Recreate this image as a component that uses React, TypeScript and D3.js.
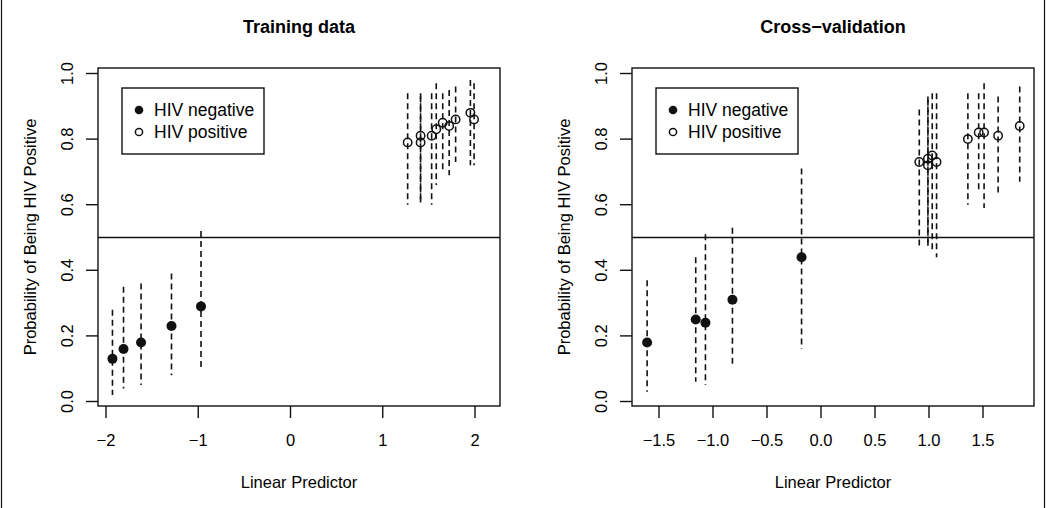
import React from "react";
import * as d3 from "d3";

// ---------- data ----------
const trainNegX = [-1.93, -1.81, -1.62, -1.29, -0.97];
const trainNegP = [0.13, 0.16, 0.18, 0.23, 0.29];
const trainNegLo = [0.02, 0.04, 0.05, 0.08, 0.1];
const trainNegHi = [0.28, 0.35, 0.36, 0.39, 0.52];

const trainPosX = [1.27, 1.41, 1.41, 1.53, 1.58, 1.65, 1.72, 1.79, 1.95, 1.99];
const trainPosP = [0.79, 0.81, 0.79, 0.81, 0.83, 0.85, 0.84, 0.86, 0.88, 0.86];
const trainPosLo = [0.6, 0.61, 0.6, 0.6, 0.66, 0.7, 0.69, 0.73, 0.72, 0.72];
const trainPosHi = [0.94, 0.94, 0.93, 0.94, 0.97, 0.94, 0.95, 0.96, 0.98, 0.97];

const cvNegX = [-1.61, -1.16, -1.07, -0.82, -0.18];
const cvNegP = [0.18, 0.25, 0.24, 0.31, 0.44];
const cvNegLo = [0.03, 0.06, 0.05, 0.11, 0.16];
const cvNegHi = [0.37, 0.44, 0.51, 0.53, 0.71];

const cvPosX = [0.91, 0.99, 0.99, 1.03, 1.07, 1.36, 1.46, 1.51, 1.64, 1.84];
const cvPosP = [0.73, 0.74, 0.72, 0.75, 0.73, 0.8, 0.82, 0.82, 0.81, 0.84];
const cvPosLo = [0.47, 0.48, 0.47, 0.46, 0.44, 0.6, 0.64, 0.59, 0.63, 0.67];
const cvPosHi = [0.89, 0.93, 0.92, 0.94, 0.94, 0.94, 0.94, 0.97, 0.93, 0.96];

const trainXTicks = [-2, -1, 0, 1, 2];
const trainXTickLabels = ["\u22122", "\u22121", "0", "1", "2"];
const cvXTicks = [-1.5, -1.0, -0.5, 0.0, 0.5, 1.0, 1.5];
const cvXTickLabels = ["\u22121.5", "\u22121.0", "\u22120.5", "0.0", "0.5", "1.0", "1.5"];
const yTicks = [0, 0.2, 0.4, 0.6, 0.8, 1.0];
const yTickLabels = ["0.0", "0.2", "0.4", "0.6", "0.8", "1.0"];
const legendLabels = ["HIV negative", "HIV positive"];
const threshold = 0.5;

const FONT = "'Liberation Sans', Arial, Helvetica, sans-serif";
const INK = "#111";

type PanelProps = {
  title: string;
  left: number;
  right: number;
  xDom: [number, number];
  xRng: [number, number];
  xTicks: number[];
  xTickLabels: string[];
  negX: number[]; negP: number[]; negLo: number[]; negHi: number[];
  posX: number[]; posP: number[]; posLo: number[]; posHi: number[];
};

const TOP = 68;
const BOTTOM = 406;

function Panel(p: PanelProps) {
  const x = d3.scaleLinear().domain(p.xDom).range(p.xRng);
  const y = d3.scaleLinear().domain([0, 1]).range([401.5, 73.5]);
  const cx = (p.left + p.right) / 2;
  const cy = (TOP + BOTTOM) / 2;
  const bar = (xs: number[], lo: number[], hi: number[], key: string) =>
    xs.map((v, i) => (
      <line key={key + i} x1={x(v)} x2={x(v)} y1={y(hi[i])} y2={y(lo[i])}
        stroke={INK} strokeWidth={1.6} strokeDasharray="6,4" />
    ));
  const lgX = p.left + 24;
  return (
    <g>
      <text x={cx} y={33} textAnchor="middle" fontFamily={FONT} fontWeight="bold" fontSize={18} fill="#000">{p.title}</text>
      {bar(p.negX, p.negLo, p.negHi, "nb")}
      {bar(p.posX, p.posLo, p.posHi, "pb")}
      <line x1={p.left} x2={p.right} y1={y(threshold)} y2={y(threshold)} stroke={INK} strokeWidth={1.4} />
      {p.negX.map((v, i) => (
        <circle key={"n" + i} cx={x(v)} cy={y(p.negP[i])} r={5} fill={INK} />
      ))}
      {p.posX.map((v, i) => (
        <circle key={"p" + i} cx={x(v)} cy={y(p.posP[i])} r={4.2} fill="none" stroke={INK} strokeWidth={1.5} />
      ))}
      <rect x={p.left} y={TOP} width={p.right - p.left} height={BOTTOM - TOP} fill="none" stroke={INK} strokeWidth={1.4} />
      {/* x axis */}
      {p.xTicks.map((t, i) => (
        <g key={"xt" + i}>
          <line x1={x(t)} x2={x(t)} y1={BOTTOM} y2={BOTTOM + 12} stroke={INK} strokeWidth={1.4} />
          <text x={x(t)} y={446} textAnchor="middle" fontFamily={FONT} fontSize={16.5} fill="#000">{p.xTickLabels[i]}</text>
        </g>
      ))}
      <text x={cx} y={488} textAnchor="middle" fontFamily={FONT} fontSize={16.5} fill="#000">Linear Predictor</text>
      {/* y axis */}
      {yTicks.map((t, i) => (
        <g key={"yt" + i}>
          <line x1={p.left} x2={p.left - 12} y1={y(t)} y2={y(t)} stroke={INK} strokeWidth={1.4} />
          <text transform={`translate(${p.left - 31},${y(t)}) rotate(-90)`} dy="0.36em" textAnchor="middle"
            fontFamily={FONT} fontSize={16.5} fill="#000">{yTickLabels[i]}</text>
        </g>
      ))}
      <text transform={`translate(${p.left - 68},${cy}) rotate(-90)`} dy="0.36em" textAnchor="middle"
        fontFamily={FONT} fontSize={16.5} fill="#000">Probability of Being HIV Positive</text>
      {/* legend */}
      <rect x={lgX} y={88} width={142} height={66} fill="#fff" stroke={INK} strokeWidth={1.4} />
      <circle cx={lgX + 17} cy={110} r={4.3} fill={INK} />
      <circle cx={lgX + 17} cy={132} r={3.6} fill="none" stroke={INK} strokeWidth={1.5} />
      <text x={lgX + 32} y={110} dy="0.36em" fontFamily={FONT} fontSize={17.5} fill="#000">{legendLabels[0]}</text>
      <text x={lgX + 32} y={132} dy="0.36em" fontFamily={FONT} fontSize={17.5} fill="#000">{legendLabels[1]}</text>
    </g>
  );
}

export default function App() {
  return (
    <svg width={1050} height={508} style={{ position: "absolute", left: 0, top: 0, background: "#fff" }}>
      <rect x={0} y={0} width={1050} height={508} fill="#fff" />
      <line x1={1.5} x2={1.5} y1={0} y2={508} stroke={INK} strokeWidth={1.2} />
      <line x1={1044.5} x2={1044.5} y1={0} y2={508} stroke={INK} strokeWidth={1.2} />
      <Panel title="Training data" left={98} right={500} xDom={[-2, 2]} xRng={[106, 475]}
        xTicks={trainXTicks} xTickLabels={trainXTickLabels}
        negX={trainNegX} negP={trainNegP} negLo={trainNegLo} negHi={trainNegHi}
        posX={trainPosX} posP={trainPosP} posLo={trainPosLo} posHi={trainPosHi} />
      <Panel title={"Cross\u2212validation"} left={632} right={1034} xDom={[-1.5, 1.5]} xRng={[659, 983]}
        xTicks={cvXTicks} xTickLabels={cvXTickLabels}
        negX={cvNegX} negP={cvNegP} negLo={cvNegLo} negHi={cvNegHi}
        posX={cvPosX} posP={cvPosP} posLo={cvPosLo} posHi={cvPosHi} />
    </svg>
  );
}
